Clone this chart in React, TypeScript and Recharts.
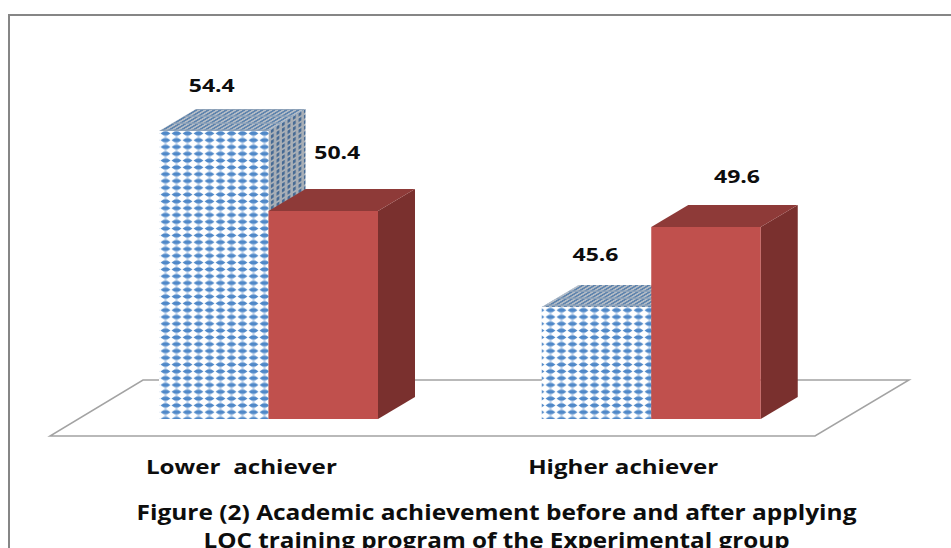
import React from "react";
import { BarChart, Bar, XAxis, YAxis, LabelList } from "recharts";

const categories = ["Lower  achiever", "Higher achiever"];
const beforeValues = [54.4, 45.6];
const afterValues = [50.4, 49.6];
const titleLines = [
  "Figure (2) Academic achievement before and after applying",
  "LOC training program of the Experimental group",
];

const chartData = categories.map((name, i) => ({
  name,
  before: beforeValues[i],
  after: afterValues[i],
}));

const FONT = "'Open Sans', sans-serif";
const DEPTH_X = 37;
const DEPTH_Y = 22;

// 3D look: front face plus top and side faces
function Bar3D({ x, y, width, height, front, top, side }: any) {
  return (
    <g>
      <polygon
        points={`${x + width},${y} ${x + width + DEPTH_X},${y - DEPTH_Y} ${x + width + DEPTH_X},${y + height - DEPTH_Y} ${x + width},${y + height}`}
        fill={side}
      />
      <polygon
        points={`${x},${y} ${x + DEPTH_X},${y - DEPTH_Y} ${x + width + DEPTH_X},${y - DEPTH_Y} ${x + width},${y}`}
        fill={top}
      />
      <rect x={x} y={y} width={width} height={height} fill={front} />
    </g>
  );
}

function CategoryTick({ x, y, payload, index }: any) {
  return (
    <text
      x={x - 27 - index}
      y={y + 49}
      textAnchor="middle"
      fontFamily={FONT}
      fontWeight={700}
      fontSize={20}
      fill="#0d0d0d"
      textLength={index === 0 ? 191 : 190}
      lengthAdjust="spacingAndGlyphs"
      style={{ whiteSpace: "pre" }}
    >
      {payload.value}
    </text>
  );
}

function valueLabel(shifts: number[][]) {
  return ({ x, y, width, value, index }: any) => {
    const [dx, dy] = shifts[index];
    return (
      <text
        x={x + width / 2 + dx}
        y={y + dy}
        textAnchor="middle"
        fontFamily={FONT}
        fontWeight={700}
        fontSize={18}
        fill="#0d0d0d"
        textLength={46}
        lengthAdjust="spacingAndGlyphs"
      >
        {value}
      </text>
    );
  };
}

export default function App() {
  return (
    <div style={{ position: "absolute", left: 0, top: 0, width: 951, height: 548, overflow: "hidden", background: "#fff" }}>
      <svg width={951} height={548} style={{ position: "absolute", left: 0, top: 0 }}>
        <polyline points="9,548 9,15 951,15" fill="none" stroke="#868686" strokeWidth={2} />
        <polygon points="50,436 815,436 909,380 143,380" fill="none" stroke="#a3a3a3" strokeWidth={1.5} />
        {titleLines.map((line, i) => (
          <text
            key={line}
            x={496.5}
            y={520 + i * 28}
            textAnchor="middle"
            fontFamily={FONT}
            fontWeight={700}
            fontSize={21}
            fill="#0d0d0d"
            textLength={i === 0 ? 720 : 586}
            lengthAdjust="spacingAndGlyphs"
          >
            {line}
          </text>
        ))}
      </svg>
      <BarChart
        width={951}
        height={548}
        data={chartData}
        barGap={0}
        barSize={109.5}
        margin={{ top: 99, right: 108.5, bottom: 0, left: 77 }}
        style={{ position: "absolute", left: 0, top: 0 }}
      >
        <defs>
          <pattern id="dotFront" width={11} height={6.8} patternUnits="userSpaceOnUse" x={160} y={130}>
            <rect width={11} height={6.8} fill="#fff" />
            <rect x={4.4} y={0} width={2.2} height={6.8} fill="#bcd2ec" />
            <polygon points="0.5,3.4 3.5,1.5 7.5,1.5 10.5,3.4 7.5,5.3 3.5,5.3" fill="#4f88c8" />
          </pattern>
          <pattern id="dotTop" width={6} height={7} patternUnits="userSpaceOnUse" patternTransform="skewX(-59)">
            <rect width={6} height={7} fill="#b4bcc6" />
            <rect width={3} height={7} fill="#5f84ad" />
            <rect y={3.5} width={6} height={1.4} fill="#8fa3ba" />
          </pattern>
          <pattern id="dotSide" width={5.5} height={5.5} patternUnits="userSpaceOnUse" patternTransform="skewY(-31)">
            <rect width={5.5} height={5.5} fill="#a9afb6" />
            <rect x={1.5} y={1} width={2.8} height={3.4} fill="#466a94" />
          </pattern>
        </defs>
        <XAxis
          dataKey="name"
          axisLine={false}
          tickLine={false}
          tickMargin={0}
          height={129}
          tick={<CategoryTick />}
        />
        <YAxis hide domain={[40, 56]} />
        <Bar
          dataKey="before"
          isAnimationActive={false}
          shape={(p: any) => <Bar3D {...p} front="url(#dotFront)" top="url(#dotTop)" side="url(#dotSide)" />}
        >
          <LabelList dataKey="before" content={valueLabel([[-2, -39], [-1, -46]])} />
        </Bar>
        <Bar
          dataKey="after"
          isAnimationActive={false}
          shape={(p: any) => <Bar3D {...p} front="#c0504d" top="#8e3a38" side="#7a302e" />}
        >
          <LabelList dataKey="after" content={valueLabel([[14, -52], [31, -44]])} />
        </Bar>
      </BarChart>
    </div>
  );
}
